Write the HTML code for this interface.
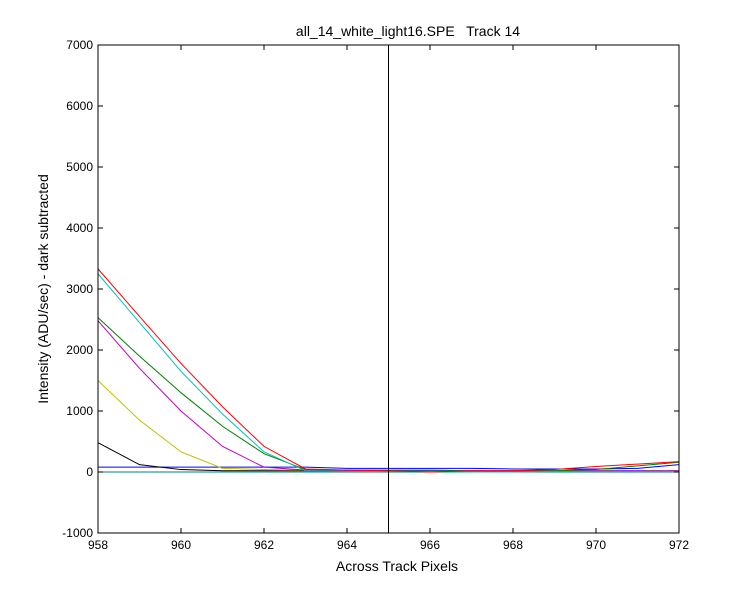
<!DOCTYPE html>
<html><head><meta charset="utf-8"><style>
body{margin:0;background:#fff;}
svg{font-family:"Liberation Sans",Arial,sans-serif;}
</style></head><body>
<svg id="chart" width="750" height="600">
<rect width="750" height="600" fill="#fff"/>
<text x="408" y="36" font-size="14" text-anchor="middle" style="white-space:pre">all_14_white_light16.SPE   Track 14</text>
<text x="397" y="571" font-size="14" text-anchor="middle">Across Track Pixels</text>
<text transform="translate(48,289) rotate(-90)" font-size="14" text-anchor="middle">Intensity (ADU/sec) - dark subtracted</text>
<g id="plot"></g>
</svg>
<script>
const xCats=[958,959,960,961,962,963,964,965,966,967,968,969,970,971,972];
const xTicks=[958,960,962,964,966,968,970,972];
const yTicks=[-1000,0,1000,2000,3000,4000,5000,6000,7000];
const sRed=[3330,2550,1780,1070,420,50,30,20,0,20,20,40,90,130,170];
const sCyan=[3250,2450,1650,950,330,20,10,10,10,0,0,10,10,10,10];
const sGreen=[2530,1900,1300,750,300,40,30,30,30,20,10,20,40,100,160];
const sMagenta=[2480,1700,1000,420,80,30,20,20,20,20,20,20,20,20,20];
const sYellow=[1500,850,330,60,40,30,30,20,20,20,20,20,20,20,20];
const sBlack=[480,120,40,20,20,20,20,20,20,20,20,20,20,20,20];
const sBlue=[80,80,80,80,80,80,60,60,60,60,50,50,50,60,120];
const sTeal=[0,0,0,0,0,0,0,0,0,0,0,0,0,0,0];
const series=[[sTeal,'#008080','teal'],[sBlue,'#0000ff','blue'],[sBlack,'#000','black'],[sYellow,'#c0c000','yellow'],[sMagenta,'#c000c0','magenta'],[sGreen,'#008000','green'],[sCyan,'#00c0c0','cyan'],[sRed,'#ff0000','red']];
const L=98,R=679,T=45,B=533;
const X=v=>L+(v-958)/(972-958)*(R-L);
const Y=v=>B-(v+1000)/8000*(B-T);
const g=document.getElementById('plot');
const NS='http://www.w3.org/2000/svg';
function mk(t,a){const e=document.createElementNS(NS,t);for(const k in a)e.setAttribute(k,a[k]);g.appendChild(e);return e;}
series.forEach(s=>{
 const p=mk('polyline',{points:s[0].map((v,i)=>X(xCats[i])+','+Y(v)).join(' '),fill:'none',stroke:s[1],'stroke-width':1});
 
 
});
const vl=mk('line',{x1:X(965),x2:X(965),y1:T,y2:B,stroke:'#000'});


const fr=mk('rect',{x:L,y:T,width:R-L,height:B-T,fill:'none',stroke:'#000'});


xTicks.forEach(v=>{
 mk('line',{x1:X(v),x2:X(v),y1:B,y2:B-5,stroke:'#000'});
 mk('line',{x1:X(v),x2:X(v),y1:T,y2:T+5,stroke:'#000'});
 const t=mk('text',{x:X(v),y:B+16,'font-size':12,'text-anchor':'middle'});
 t.textContent=v;
 
 
});
yTicks.forEach(v=>{
 mk('line',{x1:L,x2:L+5,y1:Y(v),y2:Y(v),stroke:'#000'});
 mk('line',{x1:R,x2:R-5,y1:Y(v),y2:Y(v),stroke:'#000'});
 const t=mk('text',{x:L-5,y:Y(v)+4,'font-size':12,'text-anchor':'end'});
 t.textContent=v;
 
 
});
</script>
</body></html>
